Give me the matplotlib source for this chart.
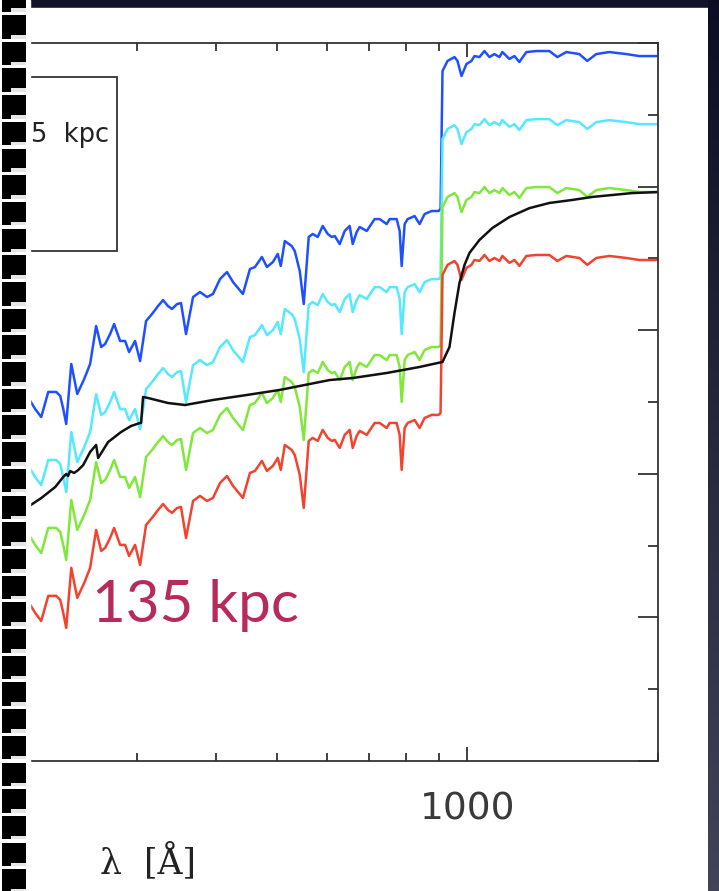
import numpy as np
import matplotlib.pyplot as plt
from matplotlib.patches import Rectangle, Polygon
from matplotlib.ticker import FixedLocator, FixedFormatter, NullFormatter, MultipleLocator

# reference spectrum (the green one); the other colours are the same spectrum shifted
wave = [202.0, 207.5, 212.1, 217.6, 224.0, 227.3, 229.8, 232.3, 236.6, 241.8,
        248.0, 253.4, 259.0, 263.8, 267.6, 272.5, 276.5, 282.6, 287.8, 292.0,
        298.4, 303.9, 310.6, 317.4, 324.4, 330.4, 336.4, 341.4, 347.6, 352.7,
        359.2, 368.5, 377.9, 387.7, 396.2, 406.4, 416.9, 426.1, 441.8, 453.2,
        461.6, 473.4, 482.1, 492.7, 501.5, 507.0, 514.5, 527.7, 533.5, 543.3,
        551.2, 561.3, 569.5, 580.0, 590.6, 601.5, 610.3, 617.0, 628.3, 639.8,
        651.5, 658.7, 668.3, 675.7, 693.1, 713.5, 726.6, 745.3, 753.5, 772.9,
        781.4, 787.1, 795.7, 804.4, 825.1, 840.2, 855.6, 877.7, 900.1, 906.7,
        913.2, 930.0, 953.9, 964.3, 978.4, 996.4, 1014.6, 1025.7, 1044.5, 1063.7,
        1083.2, 1103.0, 1123.4, 1135.6, 1164.8, 1186.2, 1207.9, 1239.0, 1285.0, 1347.1,
        1386.8, 1432.9, 1502.1, 1546.4, 1597.8, 1675.1, 1781.8, 1867.9, 2000.0]
flux = [1.588, 1.504, 1.448, 1.623, 1.623, 1.595, 1.504, 1.400, 1.818, 1.609,
        1.713, 1.818, 2.082, 1.936, 1.957, 2.026, 2.096, 1.978, 1.978, 1.901,
        1.978, 1.838, 2.117, 2.166, 2.221, 2.263, 2.221, 2.201, 2.235, 2.242,
        2.026, 2.284, 2.319, 2.284, 2.305, 2.409, 2.458, 2.389, 2.305, 2.479,
        2.493, 2.563, 2.493, 2.528, 2.584, 2.500, 2.674, 2.639, 2.604, 2.465,
        2.235, 2.702, 2.723, 2.702, 2.779, 2.723, 2.702, 2.709, 2.653, 2.744,
        2.779, 2.653, 2.737, 2.772, 2.744, 2.827, 2.827, 2.792, 2.827, 2.827,
        2.744, 2.500, 2.792, 2.827, 2.848, 2.792, 2.862, 2.883, 2.883, 2.897,
        3.858, 3.928, 3.955, 3.928, 3.823, 3.907, 3.928, 3.962, 3.955, 3.997,
        3.955, 3.976, 3.955, 3.990, 3.942, 3.962, 3.921, 3.990, 3.997, 3.997,
        3.955, 3.990, 3.976, 3.928, 3.976, 3.990, 3.976, 3.962, 3.962]
offsets = [0.947, 0.473, 0.0, -0.473]
colors = ['#1f50ff', '#55e8ff', '#80e83a', '#f2432f']

# smooth black curve
model_wave = [202.0, 212.1, 223.2, 229.8, 232.3, 233.9, 235.6, 239.1, 242.6, 247.1,
              253.4, 259.0, 260.9, 270.5, 283.6, 294.1, 303.9, 305.0, 307.2, 312.8,
              336.4, 357.9, 396.2, 448.3, 505.1, 605.9, 658.7, 745.3, 840.2, 913.2,
              936.7, 953.9, 971.3, 989.2, 1007.3, 1044.5, 1095.0, 1164.8, 1252.6, 1347.1,
              1464.4, 1574.8, 1820.9, 2000.0]
model_flux = [1.769, 1.831, 1.908, 1.978, 1.999, 1.985, 2.019, 2.006, 2.026, 2.061,
              2.152, 2.201, 2.110, 2.221, 2.291, 2.333, 2.354, 2.354, 2.535, 2.528,
              2.493, 2.479, 2.514, 2.549, 2.584, 2.653, 2.667, 2.702, 2.744, 2.779,
              2.883, 3.120, 3.329, 3.454, 3.538, 3.628, 3.712, 3.788, 3.850, 3.886,
              3.907, 3.928, 3.955, 3.962]

W, H = 719, 891
fig = plt.figure(figsize=(W / 100, H / 100), dpi=100, facecolor='#12122c')

# white slide area
fig.add_artist(Rectangle((29 / W, 0), (708 - 29) / W, (H - 8) / H,
                         transform=fig.transFigure, color='white', zorder=-5))
# dark gradient at the right edge
bg = fig.add_axes([708 / W, 0, 11 / W, 1])
top_c = np.array([0.05, 0.05, 0.14])
bot_c = np.array([0.26, 0.26, 0.35])
grad = np.linspace(0, 1, 200)[:, None, None] * (bot_c - top_c) + top_c
bg.imshow(np.repeat(grad, 2, axis=1), aspect='auto')
bg.axis('off')

ax = fig.add_axes([-54 / W, 130 / H, 712 / W, 718 / H])
for off, c in zip(offsets, colors):
    ax.plot(wave, np.array(flux) + off, color=c, lw=1.8)
ax.plot(model_wave, model_flux, color='#111111', lw=1.8)

ax.set_xscale('log')
ax.set_xlim(150, 2000)
ax.set_ylim(0, 5)
ax.xaxis.set_major_locator(FixedLocator([1000]))
ax.xaxis.set_major_formatter(FixedFormatter(['1000']))
ax.xaxis.set_minor_locator(FixedLocator([200, 300, 400, 500, 600, 700, 800, 900, 2000]))
ax.xaxis.set_minor_formatter(NullFormatter())
ax.yaxis.set_major_locator(MultipleLocator(1))
ax.yaxis.set_minor_locator(MultipleLocator(0.5))
ax.tick_params(which='both', direction='in', top=True, right=True,
               labelleft=False, color='#333333', width=1.3)
ax.tick_params(axis='x', which='major', length=10, pad=22, labelsize=27,
               labelcolor='#3a3a3a')
ax.tick_params(axis='x', which='minor', length=6)
ax.tick_params(axis='y', which='major', length=14.5)
ax.tick_params(axis='y', which='minor', length=7)
for s in ax.spines.values():
    s.set_color('#333333')
    s.set_linewidth(1.3)

# legend box (cut off on the left)
fig.add_artist(Rectangle((0, 1 - 251 / H), 117 / W, 174 / H, transform=fig.transFigure,
                         fill=False, ec='#333333', lw=1.3, zorder=2))
fig.text(31 / W, 1 - 142 / H, '5  kpc', fontsize=18.5, color='#222222',
         va='baseline', ha='left', zorder=3)

# film strip on the left edge
fig.add_artist(Rectangle((0, 0), 29.5 / W, 1, transform=fig.transFigure,
                         color='white', zorder=5))
for i in range(35):
    t = -11.7 + 26.7 * i
    pts = [(2, t), (26, t), (26, t + 20), (11, t + 20), (11, t + 23.5), (2, t + 23.5)]
    fig.add_artist(Polygon([(x / W, 1 - y / H) for x, y in pts], closed=True,
                           transform=fig.transFigure, color='black', lw=0, zorder=6))
    fig.add_artist(Rectangle((11 / W, 1 - (t + 23.5) / H), 15 / W, 3.5 / H,
                             transform=fig.transFigure, color='#e6e6e6', lw=0, zorder=6))

fig.text(92 / W, 1 - 622 / H, '135 kpc', fontsize=42, family='Lato',
         color='#b82a5a', va='baseline', zorder=7)
fig.text(100 / W, 1 - 873 / H, 'λ  [Å]', fontsize=25, family='DejaVu Serif',
         color='#222222', va='baseline')

fig.savefig('out.png', dpi=100, facecolor=fig.get_facecolor())
